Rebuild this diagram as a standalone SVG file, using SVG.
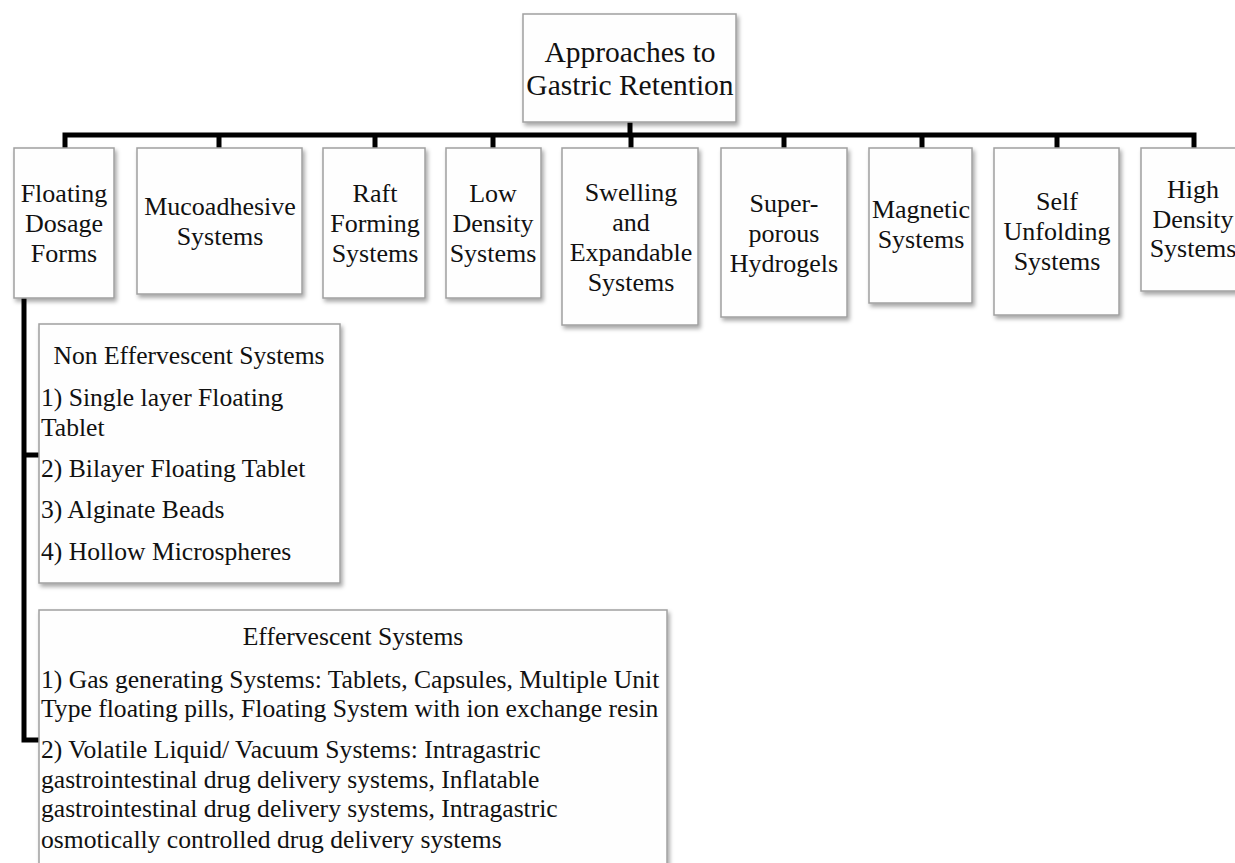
<svg xmlns="http://www.w3.org/2000/svg" width="1235" height="863" viewBox="0 0 1235 863">
<defs>
<filter id="sh" x="-10%" y="-10%" width="130%" height="130%">
<feDropShadow dx="2" dy="3" stdDeviation="2" flood-color="#000" flood-opacity="0.35"/>
</filter>
<style>
.box{fill:#fefefe;stroke:#a0a0a0;stroke-width:1.5;filter:url(#sh)}
.t{font-family:"Liberation Serif","Times New Roman",serif;fill:#111;font-size:26px}
.c{text-anchor:middle}
.s{font-size:25.6px}
.top{font-size:29.5px}
.conn{fill:none;stroke:#000;stroke-width:5;stroke-linejoin:miter}
</style>
</defs>
<rect width="1235" height="863" fill="#fff"/>
<g id="connectors">
<path class="conn" d="M630,122 V135"/>
<path class="conn" d="M65,148 V135 H1194 V148"/>
<path class="conn" d="M219,135 V148 M375,135 V148 M493,135 V148 M631,135 V148 M784,135 V148 M922,135 V148 M1057,135 V148"/>
<path class="conn" d="M24,298 V740 H40 M24,455 H40"/>
</g>
<g id="root">
<rect class="box" x="523" y="14" width="213" height="108"/>
<text class="t c top" x="630" y="62">Approaches to</text>
<text class="t c top" x="630" y="95">Gastric Retention</text>
</g>
<g id="floating">
<rect class="box" x="14" y="148" width="100" height="150"/>
<text class="t c" x="64" y="202">Floating</text>
<text class="t c" x="64" y="232">Dosage</text>
<text class="t c" x="64" y="262">Forms</text>
</g>
<g id="mucoadhesive">
<rect class="box" x="137" y="148" width="165" height="146"/>
<text class="t c" x="220" y="215">Mucoadhesive</text>
<text class="t c" x="220" y="245">Systems</text>
</g>
<g id="raft">
<rect class="box" x="323" y="148" width="102" height="150"/>
<text class="t c" x="375" y="202">Raft</text>
<text class="t c" x="375" y="232">Forming</text>
<text class="t c" x="375" y="262">Systems</text>
</g>
<g id="lowdensity">
<rect class="box" x="446" y="148" width="95" height="150"/>
<text class="t c" x="493" y="202">Low</text>
<text class="t c" x="493" y="232">Density</text>
<text class="t c" x="493" y="262">Systems</text>
</g>
<g id="swelling">
<rect class="box" x="562" y="148" width="136" height="177"/>
<text class="t c" x="631" y="201">Swelling</text>
<text class="t c" x="631" y="231">and</text>
<text class="t c" x="631" y="261">Expandable</text>
<text class="t c" x="631" y="291">Systems</text>
</g>
<g id="superporous">
<rect class="box" x="721" y="148" width="126" height="169"/>
<text class="t c" x="784" y="212">Super-</text>
<text class="t c" x="784" y="242">porous</text>
<text class="t c" x="784" y="272">Hydrogels</text>
</g>
<g id="magnetic">
<rect class="box" x="869" y="148" width="103" height="155"/>
<text class="t c" x="921" y="218">Magnetic</text>
<text class="t c" x="921" y="248">Systems</text>
</g>
<g id="selfunfolding">
<rect class="box" x="994" y="148" width="125" height="167"/>
<text class="t c" x="1057" y="210">Self</text>
<text class="t c" x="1057" y="240">Unfolding</text>
<text class="t c" x="1057" y="270">Systems</text>
</g>
<g id="highdensity">
<rect class="box" x="1141" y="148" width="110" height="143"/>
<text class="t c" x="1193" y="198">High</text>
<text class="t c" x="1193" y="228">Density</text>
<text class="t c" x="1193" y="257">Systems</text>
</g>
<g id="noneffervescent">
<rect class="box" x="39" y="324" width="301" height="259"/>
<text class="t c s" x="189" y="364">Non Effervescent Systems</text>
<text class="t s" x="41" y="406">1) Single layer Floating</text>
<text class="t s" x="41" y="436">Tablet</text>
<text class="t s" x="41" y="477">2) Bilayer Floating Tablet</text>
<text class="t s" x="41" y="518">3) Alginate Beads</text>
<text class="t s" x="41" y="560">4) Hollow Microspheres</text>
</g>
<g id="effervescent">
<rect class="box" x="39" y="610" width="628" height="270"/>
<text class="t c s" x="353" y="645">Effervescent Systems</text>
<text class="t s" x="41" y="688">1) Gas generating Systems: Tablets, Capsules, Multiple Unit</text>
<text class="t s" x="41" y="717">Type floating pills, Floating System with ion exchange resin</text>
<text class="t s" x="41" y="758">2) Volatile Liquid/ Vacuum Systems: Intragastric</text>
<text class="t s" x="41" y="788">gastrointestinal drug delivery systems, Inflatable</text>
<text class="t s" x="41" y="817">gastrointestinal drug delivery systems, Intragastric</text>
<text class="t s" x="41" y="848">osmotically controlled drug delivery systems</text>
</g>
</svg>
